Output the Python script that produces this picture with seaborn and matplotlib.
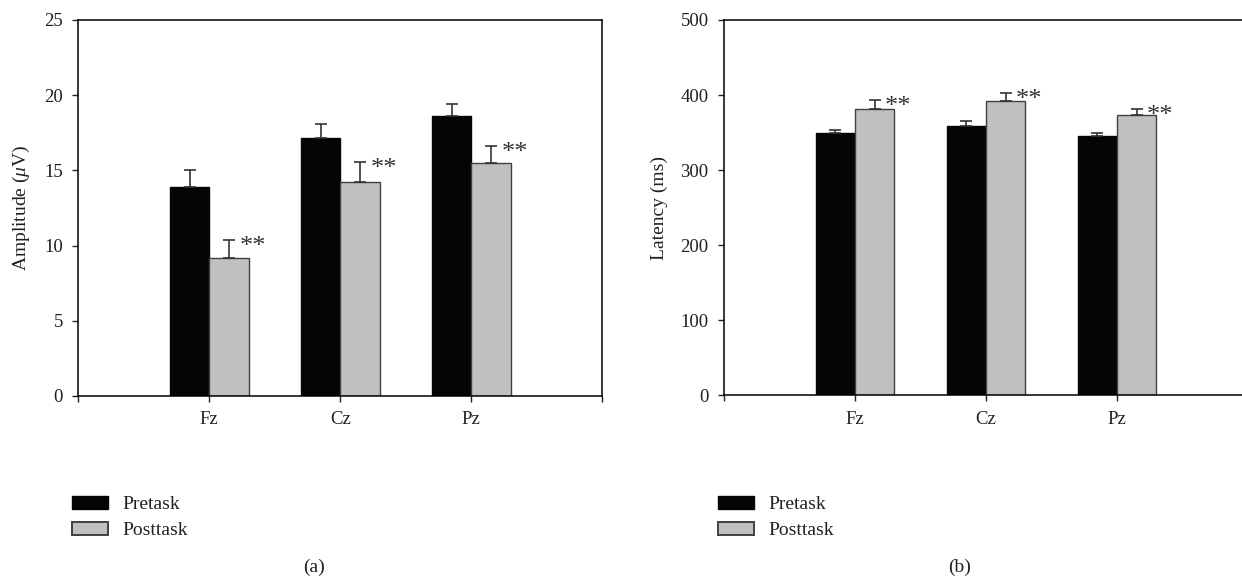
import numpy as np
import pandas as pd
import matplotlib
matplotlib.use("Agg")
import matplotlib.pyplot as plt
import seaborn as sns

# data
electrodes = ["Fz", "Cz", "Pz"]
sessions = ["Pretask", "Posttask"]

amp_pre = [13.9, 17.15, 18.65]
amp_pre_err = [1.15, 0.95, 0.75]
amp_post = [9.15, 14.2, 15.5]
amp_post_err = [1.2, 1.35, 1.15]

lat_pre = [349, 358.5, 345]
lat_pre_err = [4.5, 6.5, 5]
lat_post = [382, 391.5, 374]
lat_post_err = [11.5, 11, 7]

sns.set_style("ticks")
plt.rcParams["font.family"] = ["Liberation Serif", "DejaVu Serif"]
plt.rcParams["mathtext.fontset"] = "custom"
plt.rcParams["mathtext.rm"] = "Liberation Serif"
plt.rcParams["mathtext.it"] = "Liberation Serif:italic"

txt_col = "#231f20"
err_col = "#333333"
colors = ["#050505", "#c0c0c0"]


def make_df(pre, post, pre_err, post_err):
    return pd.DataFrame({
        "Electrode": electrodes * 2,
        "Session": [sessions[0]] * 3 + [sessions[1]] * 3,
        "value": list(pre) + list(post),
        "err": list(pre_err) + list(post_err),
    })


def draw_panel(ax, df, ylabel, ymax, ystep):
    sns.barplot(data=df, x="Electrode", y="value", hue="Session",
                hue_order=sessions, order=electrodes, palette=colors,
                errorbar=None, width=0.6, ax=ax, legend=False,
                saturation=1)
    errs = [df[df.Session == s]["err"].tolist() for s in sessions]
    bar_groups = list(ax.containers)[:2]
    for k, cont in enumerate(bar_groups):
        for bar, e in zip(cont, errs[k]):
            if k == 0:
                bar.set_edgecolor(colors[0])
            else:
                bar.set_edgecolor("#404040")
            bar.set_linewidth(1.0)
            xc = bar.get_x() + bar.get_width() / 2
            h = bar.get_height()
            ax.errorbar(xc, h, yerr=[[0], [e]], fmt="none", ecolor=err_col,
                        elinewidth=1.2, capsize=4, capthick=1.2, zorder=1)
            if k == 1:
                ax.annotate("**", (xc, h + e), xytext=(7.5, -5),
                            textcoords="offset points", ha="left",
                            va="center", fontsize=19, color=err_col)
    ax.set_xlim(-1, 3)
    ax.set_ylim(0, ymax)
    ax.set_xticks([-1, 0, 1, 2, 3])
    ax.set_xticklabels([""] + electrodes + [""])
    ax.set_yticks(np.arange(0, ymax + 1, ystep))
    ax.set_xlabel("")
    ax.set_ylabel(ylabel, fontsize=14, color=txt_col, labelpad=9)
    for sp in ax.spines.values():
        sp.set_visible(True)
        sp.set_color("black")
        sp.set_linewidth(1.1)
    ax.tick_params(direction="out", length=4, width=1.0, pad=7,
                   labelsize=13.5, labelcolor=txt_col, color="#222222")
    ax.tick_params(axis="y", right=False)
    ax.tick_params(axis="x", top=False)


fig = plt.figure(figsize=(12.42, 5.78), dpi=100)
ax1 = fig.add_axes([0.0630, 0.3149, 0.4219, 0.6505])
ax2 = fig.add_axes([0.5829, 0.3161, 0.4219, 0.6493])

draw_panel(ax1, make_df(amp_pre, amp_post, amp_pre_err, amp_post_err),
           "Amplitude ($\\mu$V)", 25, 5)
draw_panel(ax2, make_df(lat_pre, lat_post, lat_pre_err, lat_post_err),
           "Latency (ms)", 500, 100)
ax2.spines["right"].set_visible(False)

# legends under each panel
for ax, x0, tag, tx in [(ax1, 72 / 1242, "(a)", 314 / 1242),
                        (ax2, 718 / 1242, "(b)", 960 / 1242)]:
    handles = [plt.Rectangle((0, 0), 1, 1, facecolor=colors[0], edgecolor=colors[0]),
               plt.Rectangle((0, 0), 1, 1, facecolor=colors[1], edgecolor="#404040",
                             linewidth=1.4)]
    leg = ax.legend(handles, sessions, loc="upper left",
                    bbox_to_anchor=(x0, 1 - 496 / 578),
                    bbox_transform=fig.transFigure, frameon=False,
                    fontsize=14, handlelength=1.85, handleheight=0.62,
                    handletextpad=0.74, labelspacing=0.46, borderpad=0,
                    borderaxespad=0)
    for t in leg.get_texts():
        t.set_color(txt_col)
    fig.text(tx, 1 - 567 / 578, tag, ha="center", va="center",
             fontsize=14, color=txt_col)

fig.savefig("out.png", dpi=100)
